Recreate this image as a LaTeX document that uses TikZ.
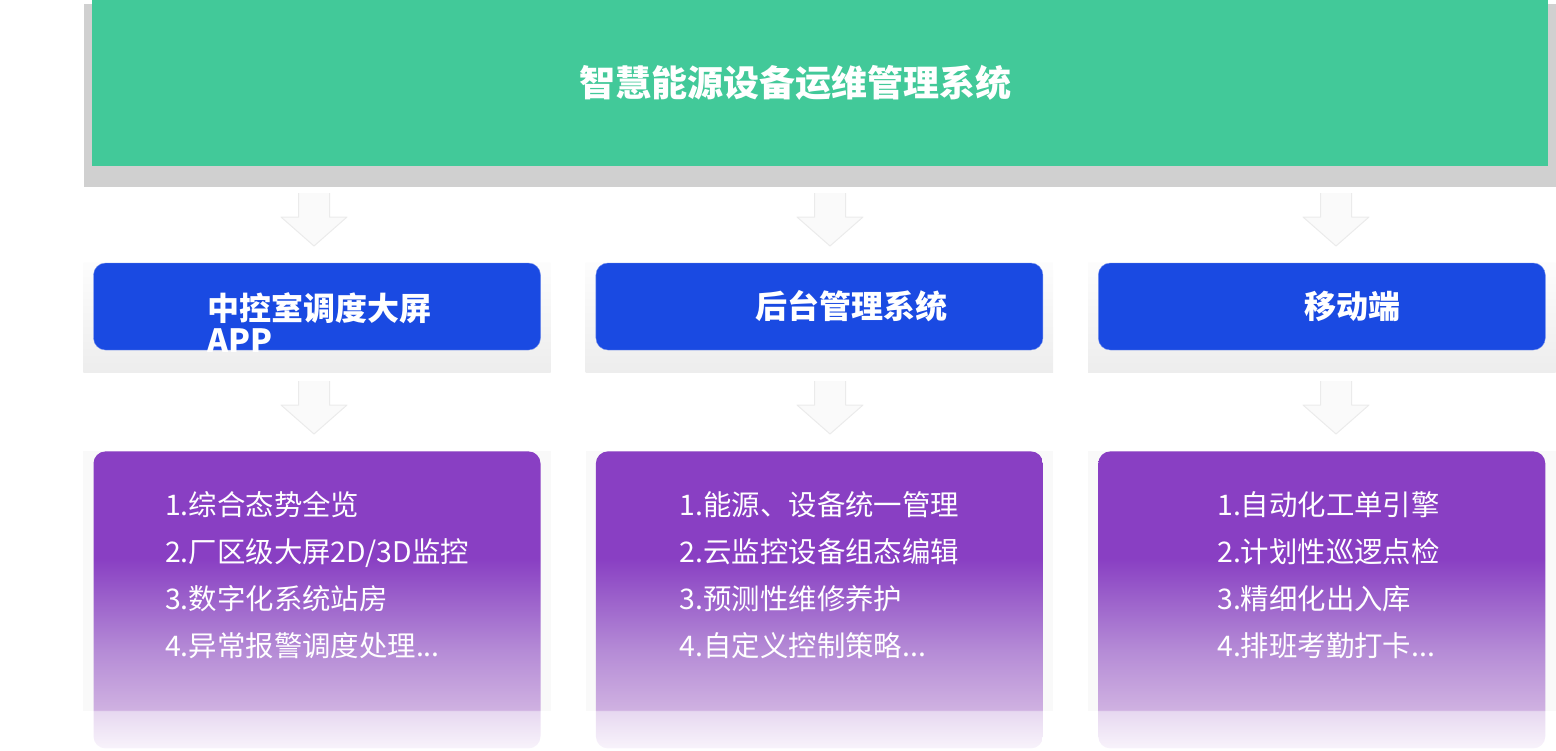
\documentclass[tikz,border=0pt]{standalone}
\usepackage{fontspec}
\setmainfont{Noto Sans CJK SC}
\usetikzlibrary{positioning,calc,backgrounds}
\definecolor{titlegreen}{RGB}{66,201,153}
\definecolor{titlegray}{RGB}{208,208,208}
\definecolor{headblue}{RGB}{26,74,226}
\definecolor{lftop}{RGB}{137,63,195}
\definecolor{lfmid}{RGB}{156,98,203}
\definecolor{lfsoft}{RGB}{181,139,214}
\definecolor{lflow}{RGB}{207,177,225}
\definecolor{lfband}{RGB}{231,216,240}
\definecolor{lfwhite}{RGB}{248,243,251}
\pgfdeclareverticalshading{listfade}{100bp}{
  color(0bp)=(lfwhite); color(25bp)=(lfwhite); color(31.3bp)=(lfband);
  color(31.5bp)=(lflow); color(41.5bp)=(lfsoft); color(50bp)=(lfmid);
  color(57bp)=(lftop); color(75bp)=(lftop); color(100bp)=(lftop)}
\tikzset{
  titlebar/.style  ={rectangle, fill=titlegreen, inner sep=0pt, text=white,
                     minimum width=1456pt, minimum height=166pt,
                     font=\fontsize{36}{40}\selectfont\bfseries},
  titleshade/.style={rectangle, fill=titlegray, inner sep=0pt,
                     minimum width=1472pt, minimum height=183pt},
  head/.style      ={rectangle, rounded corners=12pt, fill=headblue, draw=headblue!60!white,
                     inner sep=0pt, text=white, minimum width=447pt, minimum height=87pt,
                     font=\fontsize{32}{32}\selectfont\bfseries},
  list/.style      ={rectangle, rounded corners=12pt, shading=listfade, inner sep=0pt,
                     text=white, align=left, text depth=51pt,
                     minimum width=447pt, minimum height=297pt,
                     font=\fontsize{28.4}{47}\selectfont},
  halo/.style      ={top color=black!1, bottom color=black!7},
  softhalo/.style  ={fill=black!2.5},
  hollowfill/.style={fill=black!2},
  hollowline/.style={draw=black!8, line width=1pt, line join=round},
}
\begin{document}
\begin{tikzpicture}[x=1pt, y=-1pt]
    \useasboundingbox (0,0) rectangle (1556,750);

    % title bar
    \node[titleshade] (tshade) at (820,95.5) {};
    \node[titlebar] (title) at (820,83) {智慧能源设备运维管理系统\hspace*{50pt}};

    % clients
    \node[head, text depth=0pt] (app) at (317,306.5)
        {\hspace*{20pt}\parbox[t]{240pt}{中控室调度大屏\\APP}};
    \node[head, right=55pt of app] (admin) {\hspace*{64pt}后台管理系统};
    \node[head, right=55pt of admin] (mobile) {\hspace*{62pt}移动端};

    % functions
    \node[list, below=101pt of app] (applist)
        {1.综合态势全览\\2.厂区级大屏2D/3D监控\\3.数字化系统站房\\4.异常报警调度处理...};
    \node[list, below=101pt of admin] (adminlist)
        {1.能源、设备统一管理\\2.云监控设备组态编辑\\3.预测性维修养护\\4.自定义控制策略...};
    \node[list, below=101pt of mobile] (mobilelist)
        {\hspace*{16pt}\parbox[b]{225pt}{1.自动化工单引擎\\2.计划性巡逻点检\\3.精细化出入库\\4.排班考勤打卡...}};

    % hollow arrows
    \foreach \cx in {314,830,1336}
      \foreach \ty in {193,381} {
        \fill[hollowfill] (\cx-15.5,\ty) -- ++(31,0) -- ++(0,24) -- ++(17.5,0)
            -- (\cx,\ty+53) -- (\cx-33,\ty+24) -- ++(17.5,0) -- cycle;
        \draw[hollowline] (\cx+15.5,\ty) -- ++(0,24) -- ++(17.5,0)
            -- (\cx,\ty+53) -- (\cx-33,\ty+24) -- ++(17.5,0) -- (\cx-15.5,\ty);
      }

    % shadows
    \begin{scope}[on background layer]
      \foreach \n in {app,admin,mobile}
        \fill[halo] ($(\n.north west)+(-10,0)$) rectangle ($(\n.south east)+(10,22)$);
      \foreach \n in {applist,adminlist,mobilelist}
        \fill[softhalo] ($(\n.north west)+(-10,0)$) rectangle ($(\n.south east)+(10,-38)$);
    \end{scope}
  \end{tikzpicture}
\end{document}
